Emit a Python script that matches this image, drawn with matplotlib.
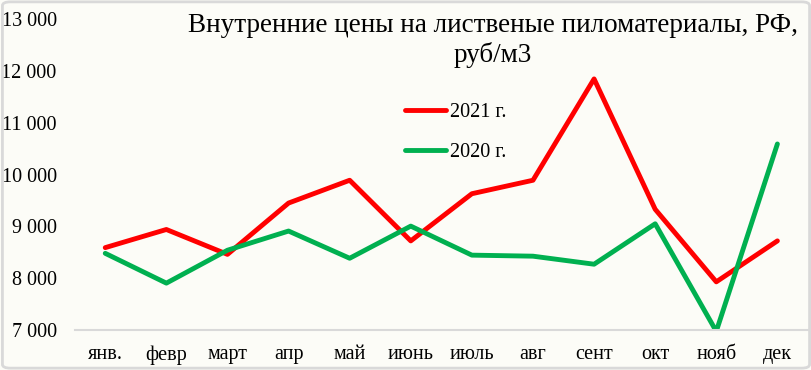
import matplotlib.pyplot as plt
from matplotlib.patches import FancyBboxPatch
from matplotlib.ticker import FuncFormatter

# данные
months = ['янв.', 'февр', 'март', 'апр', 'май', 'июнь', 'июль', 'авг', 'сент', 'окт', 'нояб', 'дек']
prices_2021 = [8590, 8940, 8460, 9450, 9890, 8720, 9630, 9890, 11845, 9330, 7930, 8720]
prices_2020 = [8480, 7905, 8540, 8910, 8385, 9005, 8445, 8425, 8270, 9050, 6975, 10590]

plt.rcParams['font.family'] = ['Liberation Serif', 'DejaVu Serif']

bg = '#fcfcf7'
fig = plt.figure(figsize=(8.12, 3.70), dpi=100, facecolor=bg)
fig.patches.append(FancyBboxPatch((0.003, 0.005), 0.994, 0.99, boxstyle='round,pad=0,rounding_size=0.01',
                                  transform=fig.transFigure, facecolor='none',
                                  edgecolor='#d9d9d9', linewidth=2))

ax = fig.add_axes([0.092, 0.108, 0.903, 0.8405])
ax.set_facecolor(bg)

x = list(range(len(months)))
ax.plot(x, prices_2021, color='#ff0000', linewidth=3.5, label='2021 г.', solid_capstyle='round')
ax.plot(x, prices_2020, color='#00b050', linewidth=3.5, label='2020 г.', solid_capstyle='round')

ax.set_xlim(-0.5, 11.5)
ax.set_ylim(7000, 13000)
ax.set_yticks(range(7000, 13001, 1000))
ax.yaxis.set_major_formatter(FuncFormatter(lambda v, p: f'{int(v):,}'.replace(',', ' ')))
ax.set_xticks(x)
ax.set_xticklabels(months)
ax.tick_params(axis='both', length=0, labelsize=14.5, colors='black')
ax.tick_params(axis='x', pad=11)
ax.tick_params(axis='y', pad=13)
for side in ['top', 'right', 'left']:
    ax.spines[side].set_visible(False)
ax.spines['bottom'].set_color('#d9d9d9')
ax.spines['bottom'].set_linewidth(1.5)

fig.text(0.607, 0.965, 'Внутренние цены на лиственые пиломатериалы, РФ,\nруб/м3',
         ha='center', va='top', fontsize=19.5, linespacing=1.2)

ax.legend(loc='upper left', bbox_to_anchor=(0.477, 0.77), bbox_transform=fig.transFigure,
          frameon=False, fontsize=14.5, handlelength=2.0, handletextpad=0.2, labelspacing=1.0)

fig.savefig('out.png', dpi=100, facecolor=bg)
